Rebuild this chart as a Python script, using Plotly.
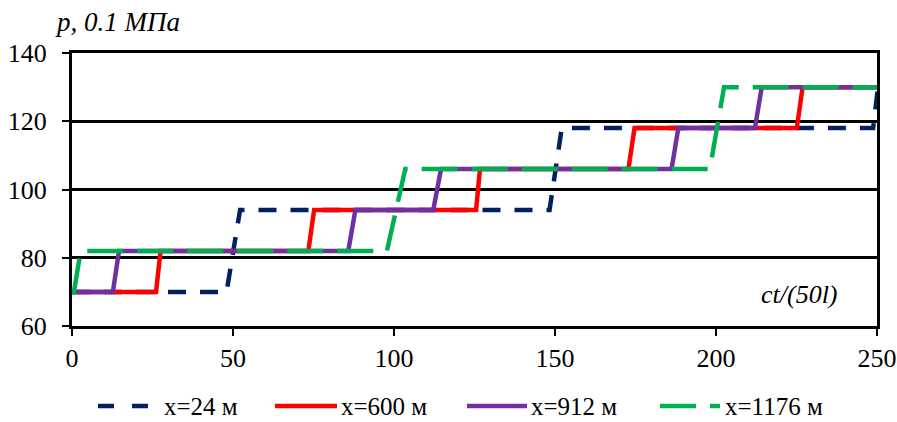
import plotly.graph_objects as go

# Step curves p(t): time (ct/(50l)) breakpoints and pressure levels
navy_t = [0, 48.0, 52.2, 148.3, 152.1, 248.8, 250.3]
navy_p = [70, 70, 94, 94, 118, 118, 130]

red_t = [0, 26.1, 27.5, 73.4, 75.2, 125.5, 126.7, 172.8, 174.7, 225.1, 226.9, 250]
red_p = [70, 70, 82, 82, 94, 94, 106, 106, 118, 118, 130, 130]

purple_t = [0, 12.7, 14.6, 85.8, 88.0, 112.2, 114.6, 186.2, 188.3, 212.1, 214.2, 250]
purple_p = [70, 70, 82, 82, 94, 94, 106, 106, 118, 118, 130, 130]

green_t = [0, 0.6, 2.7, 97.8, 103.5, 198.1, 202.5, 250]
green_p = [70, 70, 82, 82, 106, 106, 130, 130]

names = ["x=24 м", "x=600 м", "x=912 м", "x=1176 м"]
colors = ["#002060", "#FF0000", "#7030A0", "#00B050"]
dashes = ["18px,14px", "solid", "solid", "36px,14px"]
x_ticks = [0, 50, 100, 150, 200, 250]
y_ticks = [60, 80, 100, 120, 140]

FONT = "Liberation Serif"
LW = 4.5

def fnt(size):
    return dict(family=FONT, size=size, color="black")

fig = go.Figure()
series = [(navy_t, navy_p), (red_t, red_p), (purple_t, purple_p), (green_t, green_p)]
for (t, p), name, c, d in zip(series, names, colors, dashes):
    fig.add_trace(go.Scatter(x=t, y=p, mode="lines", name=name, showlegend=False,
                             line=dict(color=c, width=LW, dash=d)))

# Plot area spans x 72..877 px and y 53..326 px of the page
PW, PH = 805.0, 273.0
def px_x(px):
    return (px - 72) / PW
def px_y(py):
    return (326 - py) / PH

# Custom legend (sample line + label) to match the long legend keys of the original
leg_samples = [(98, 160), (275, 337), (467, 527), (660, 720)]
leg_dashes = ["16px,18px", "solid", "solid", "36px,14px"]
leg_text_x = [162, 339, 529, 723]
leg_y = 406
shapes = []
annotations = []
for (x0, x1), c, d, tx, name in zip(leg_samples, colors, leg_dashes, leg_text_x, names):
    shapes.append(dict(type="line", xref="paper", yref="paper",
                       x0=px_x(x0), x1=px_x(x1), y0=px_y(leg_y), y1=px_y(leg_y),
                       line=dict(color=c, width=LW, dash=d)))
    annotations.append(dict(text=name, xref="paper", yref="paper", x=px_x(tx), y=px_y(leg_y),
                            xanchor="left", yanchor="middle", showarrow=False,
                            font=fnt(25)))

annotations.append(dict(text="<i>p, 0.1 МПа</i>", xref="paper", yref="paper",
                        x=px_x(53), y=px_y(22), xanchor="left", yanchor="middle",
                        showarrow=False, font=fnt(27)))
annotations.append(dict(text="<i>ct/(50l)</i>", xref="x", yref="y", x=238.5, y=69.2,
                        xanchor="right", yanchor="middle", showarrow=False,
                        font=fnt(26)))

fig.update_layout(
    template="none",
    width=897, height=422,
    margin=dict(l=72, r=20, t=53, b=96, autoexpand=False),
    plot_bgcolor="white", paper_bgcolor="white",
    font=fnt(26),
    showlegend=False,
    xaxis=dict(range=[0, 250], tickvals=x_ticks, showgrid=False, zeroline=False,
               showline=True, linecolor="black", linewidth=3, mirror=True,
               ticks="outside", ticklen=7, tickwidth=2, tickcolor="black",
               automargin=False, tickfont=fnt(26)),
    yaxis=dict(range=[60, 140], tickvals=y_ticks, showgrid=True, gridcolor="black",
               gridwidth=3, zeroline=False,
               showline=True, linecolor="black", linewidth=3, mirror=True,
               ticks="outside", ticklen=7, tickwidth=2, tickcolor="black",
               ticklabelstandoff=10,
               automargin=False, tickfont=fnt(26)),
    shapes=shapes,
    annotations=annotations,
)

fig.write_html("out.html", config={"displayModeBar": False},
               post_script="document.body.style.margin='0';document.body.style.overflow='hidden';")
